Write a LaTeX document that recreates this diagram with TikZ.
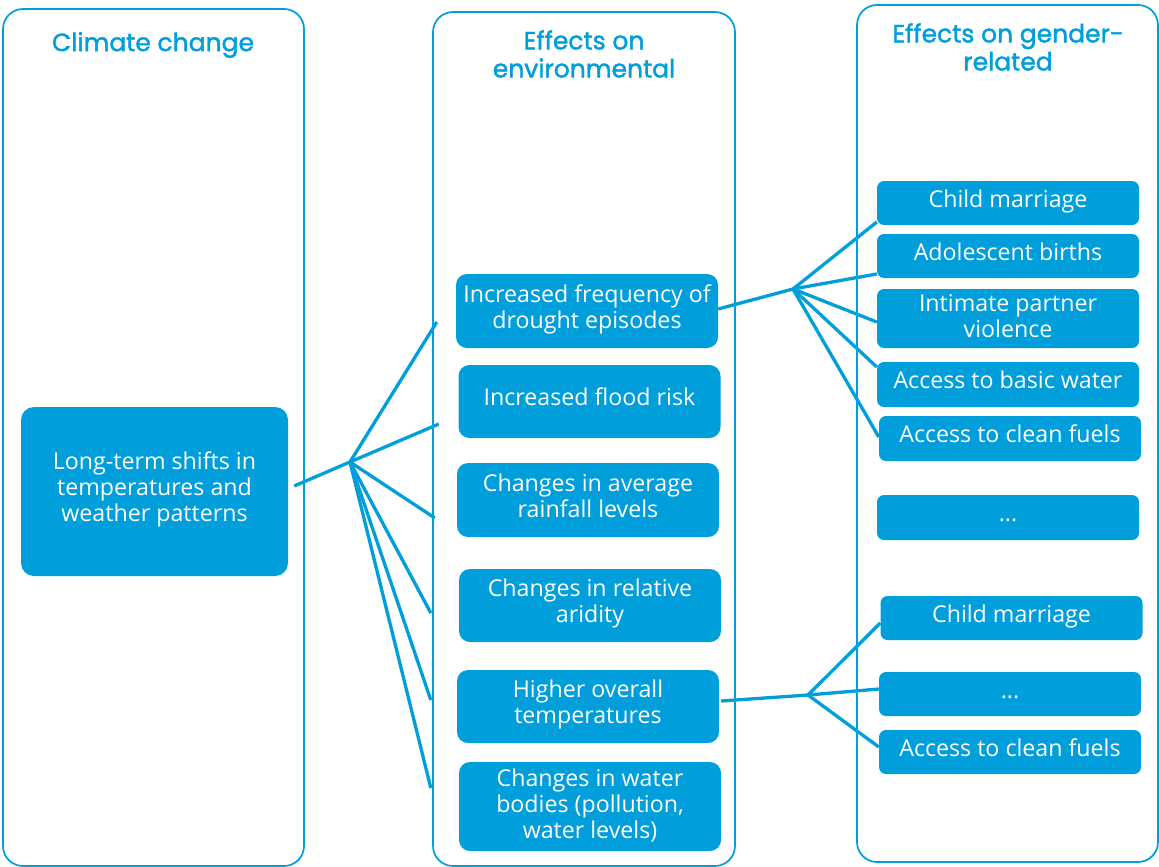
\documentclass[tikz,border=0pt]{standalone}
\usepackage{fontspec}
\setmainfont{Open Sans}
\newfontfamily\headfont[RawFeature={embolden=1.6}]{Poppins}
\usepackage{tikz}
\usetikzlibrary{calc}
\definecolor{cblue}{HTML}{009EDB}
\tikzset{
  panel/.style={draw=cblue,line width=1.7pt,rounded corners=20pt,inner sep=0pt},
  head/.style={font=\headfont\fontsize{25}{28}\selectfont,text=cblue,align=center},
  box/.style={fill=cblue,rounded corners=11pt,inner sep=0pt,align=center,text=white,
    font=\fontsize{23.2}{26}\selectfont,text depth=9pt},
  bigbox/.style={box,minimum width=267pt,minimum height=169pt,rounded corners=13pt},
  midbox/.style={box,minimum width=262pt,minimum height=73pt},
  gbox/.style={box,minimum width=262pt,minimum height=44pt,rounded corners=7pt},
  dotbox/.style={gbox,text height=17pt},
  link/.style={draw=cblue,line width=3.3pt}
}
\begin{document}
\begin{tikzpicture}[x=1pt,y=-1pt]
  \useasboundingbox (0,0) rectangle (1159,867);
  % column frames
  \node[panel,minimum width=301pt,minimum height=857pt] (p1) at (153.5,437.5) {};
  \node[panel,minimum width=302pt,minimum height=854pt] (p2) at (584,439) {};
  \node[panel,minimum width=301pt,minimum height=857pt] (p3) at (1007.5,433.5) {};
  \node[head] (h1) at (153,45) {Climate change};
  \node[head] (h2) at (584,54) {Effects on\\environmental};
  \node[head] (h3) at (1008,47) {Effects on gender-\\related};
  % climate change
  \node[bigbox] (lt) at (154.5,491.5) {Long-term shifts in\\temperatures and\\weather patterns};
  % environmental effects
  \node[midbox,minimum height=74pt] (m1) at (587,311) {Increased frequency of\\drought episodes};
  \node[midbox] (m2) at (589.5,401.5) {Increased flood risk};
  \node[midbox,minimum height=74pt] (m3) at (588,500) {Changes in average\\rainfall levels};
  \node[midbox] (m4) at (590,605.5) {Changes in relative\\aridity};
  \node[midbox] (m5) at (588,706.5) {Higher overall\\temperatures};
  \node[midbox,minimum height=89pt,text depth=5pt] (m6) at (590,806.5) {Changes in water\\bodies (pollution,\\water levels)};
  % gender-related effects
  \node[gbox] (r1) at (1008,203) {Child marriage};
  \node[gbox] (r2) at (1008,256) {Adolescent births};
  \node[gbox,minimum height=59pt,text depth=6pt] (r3) at (1008,318.5) {Intimate partner\\violence};
  \node[gbox,minimum height=45pt] (r4) at (1008,384.5) {Access to basic water};
  \node[gbox,minimum height=45pt] (r5) at (1010,438.5) {Access to clean fuels};
  \node[dotbox,minimum height=45pt] (r6) at (1008,517.5) {...};
  \node[gbox] (r7) at (1011.5,618) {Child marriage};
  \node[dotbox] (r8) at (1010,694) {...};
  \node[gbox] (r9) at (1010,752) {Access to clean fuels};
  % fan points
  \coordinate (fanL) at (350,462);
  \coordinate (fanD) at (793,289);
  \coordinate (fanT) at (808,695);
  \draw[link] ([shift={(6,-5.5)}]lt.east) -- (fanL);
  \foreach \b/\dx/\dy in {m1/-19/11,m2/-19.5/22.5,m3/-22/18,m4/-28/7.5,m5/-26/-6.5,m6/-28/-18.5}
    \draw[link] (fanL) -- ([shift={(\dx,\dy)}]\b.west);
  \draw[link] ([shift={(0,-2)}]m1.east) -- (fanD);
  \foreach \b/\dy in {r1/19,r2/18,r3/3.5,r4/-17.5,r5/-1.5}
    \draw[link] (fanD) -- ([shift={(0,\dy)}]\b.west);
  \draw[link] ([shift={(2,-5.5)}]m5.east) -- (fanT);
  \foreach \b/\dy in {r7/5,r8/-5,r9/-5}
    \draw[link] (fanT) -- ([shift={(0,\dy)}]\b.west);
\end{tikzpicture}
\end{document}
